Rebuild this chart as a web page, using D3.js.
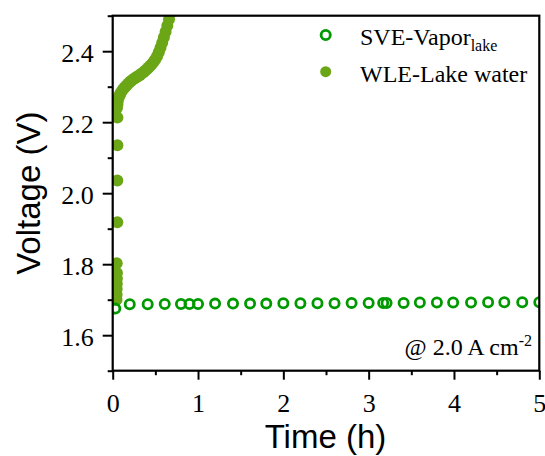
<!DOCTYPE html>
<html>
<head>
<meta charset="utf-8">
<script src="https://cdn.jsdelivr.net/npm/d3@7"></script>
<style>
  html, body { margin: 0; padding: 0; background: #fff; }
  svg { display: block; }
  .tick text { font-family: 'Liberation Serif', 'Times New Roman', serif !important; }
</style>
</head>
<body>
<svg id="chart" width="545" height="456"></svg>
<script>
// ---- data ----
const sveTime = [0.03, 0.20, 0.41, 0.61, 0.80, 0.90, 1.00, 1.20, 1.41, 1.61, 1.80, 2.00, 2.20, 2.40, 2.60, 2.80, 3.00, 3.17, 3.21, 3.41, 3.60, 3.80, 3.99, 4.20, 4.40, 4.59, 4.80, 5.00];
const sveVolt = [1.675, 1.687, 1.687, 1.688, 1.688, 1.688, 1.688, 1.689, 1.689, 1.689, 1.689, 1.690, 1.690, 1.690, 1.690, 1.691, 1.691, 1.691, 1.691, 1.691, 1.692, 1.692, 1.692, 1.692, 1.693, 1.693, 1.693, 1.693];

const wleTime = [0.045, 0.046, 0.047, 0.048, 0.049, 0.050, 0.047, 0.054, 0.054, 0.055, 0.055,
  0.05, 0.055, 0.06, 0.07, 0.08, 0.09, 0.10, 0.12, 0.14, 0.16, 0.18, 0.20, 0.22, 0.24, 0.26, 0.28, 0.30,
  0.32, 0.34, 0.36, 0.38, 0.40, 0.42, 0.44, 0.46, 0.48, 0.50, 0.52, 0.54, 0.56, 0.58, 0.60, 0.62, 0.64, 0.66, 0.68];
const wleVolt = [1.700, 1.715, 1.730, 1.745, 1.760, 1.775, 1.803, 1.918, 2.036, 2.135, 2.213,
  2.240, 2.250, 2.260, 2.270, 2.275, 2.280, 2.285, 2.292, 2.298, 2.303, 2.308, 2.313, 2.317, 2.321, 2.324, 2.327, 2.330,
  2.333, 2.337, 2.341, 2.345, 2.349, 2.354, 2.359, 2.364, 2.370, 2.377, 2.386, 2.397, 2.410, 2.424, 2.439, 2.455, 2.472, 2.490, 2.508];

const xMajorTicks = [0, 1, 2, 3, 4, 5];
const xMinorTicks = [0.5, 1.5, 2.5, 3.5, 4.5];
const yMajorTicks = [1.6, 1.8, 2.0, 2.2, 2.4];
const yMinorTicks = [1.5, 1.7, 1.9, 2.1, 2.3, 2.5];
const yTickLabels = ["1.6", "1.8", "2.0", "2.2", "2.4"];
const seriesNames = ["SVE-Vapor", "WLE-Lake water"];

// ---- layout ----
const svg = d3.select("#chart");
const L = 112.7, R = 539.3, T = 15.7, B = 370.7;
const x = d3.scaleLinear().domain([0, 5]).range([L, R]);
const y = d3.scaleLinear().domain([1.5, 2.5]).range([B, T]);

const SVE_COLOR = "#009a00";
const WLE_COLOR = "#6aa616";
const serif = "'Liberation Serif', 'Times New Roman', serif";
const sans = "'Liberation Sans', Arial, sans-serif";

svg.append("defs").append("clipPath").attr("id", "clip")
  .append("rect").attr("x", L).attr("y", T).attr("width", R - L).attr("height", B - T);

const plot = svg.append("g").attr("clip-path", "url(#clip)");

// WLE filled dots
plot.append("g").selectAll("circle")
  .data(wleTime.map((t, i) => [t, wleVolt[i]]))
  .join("circle")
  .attr("cx", d => x(d[0])).attr("cy", d => y(d[1]))
  .attr("r", 6).attr("fill", WLE_COLOR);

// SVE open circles
plot.append("g").selectAll("circle")
  .data(sveTime.map((t, i) => [t, sveVolt[i]]))
  .join("circle")
  .attr("cx", d => x(d[0])).attr("cy", d => y(d[1]))
  .attr("r", 4.6).attr("fill", "none").attr("stroke", SVE_COLOR).attr("stroke-width", 2.8);

// ---- axes ----
function styleAxis(g) {
  g.attr("font-family", serif).attr("font-size", 26);
  g.select(".domain").remove();
  g.selectAll(".tick line").attr("stroke", "#000").attr("stroke-width", 2);
  g.selectAll("text").style("font-family", serif).style("font-size", "26px").attr("fill", "#000");
}

const xAxis = svg.append("g").attr("transform", `translate(0,${B})`)
  .call(d3.axisBottom(x).tickValues(xMajorTicks).tickFormat(d3.format("d")).tickSize(9).tickPadding(13.5));
styleAxis(xAxis);
const xMinor = svg.append("g").attr("transform", `translate(0,${B})`)
  .call(d3.axisBottom(x).tickValues(xMinorTicks).tickFormat("").tickSize(4.5));
styleAxis(xMinor);

const yAxis = svg.append("g").attr("transform", `translate(${L},0)`)
  .call(d3.axisLeft(y).tickValues(yMajorTicks).tickFormat((d, i) => yTickLabels[i]).tickSize(10).tickPadding(9));
styleAxis(yAxis);
yAxis.selectAll("text").attr("dy", "0.4em");
const yMinor = svg.append("g").attr("transform", `translate(${L},0)`)
  .call(d3.axisLeft(y).tickValues(yMinorTicks).tickFormat("").tickSize(5));
styleAxis(yMinor);

// frame
svg.append("rect").attr("x", L).attr("y", T).attr("width", R - L).attr("height", B - T)
  .attr("fill", "none").attr("stroke", "#000").attr("stroke-width", 2.2);

// axis titles
svg.append("text").attr("x", (L + R) / 2 - 0.5).attr("y", 448.3)
  .attr("text-anchor", "middle").style("font-family", sans).style("font-size", "33px")
  .text("Time (h)");
svg.append("text").attr("transform", `translate(40,${(T + B) / 2}) rotate(-90)`)
  .attr("text-anchor", "middle").style("font-family", sans).style("font-size", "33px")
  .text("Voltage (V)");

// legend
const leg = svg.append("g");
leg.append("circle").attr("cx", 325.7).attr("cy", 35).attr("r", 4.6)
  .attr("fill", "none").attr("stroke", SVE_COLOR).attr("stroke-width", 2.8);
leg.append("circle").attr("cx", 325.7).attr("cy", 71.7).attr("r", 5.5).attr("fill", WLE_COLOR);
const t1 = leg.append("text").attr("x", 360).attr("y", 45)
  .style("font-family", serif).style("font-size", "24px");
t1.append("tspan").text(seriesNames[0]);
t1.append("tspan").style("font-size", "16px").attr("dy", 5.5).text("lake");
leg.append("text").attr("x", 360).attr("y", 81.7)
  .style("font-family", serif).style("font-size", "24px").text(seriesNames[1]);

// annotation
const ann = svg.append("text").attr("x", 532).attr("y", 355)
  .attr("text-anchor", "end").style("font-family", serif).style("font-size", "24px");
ann.append("tspan").text("@ 2.0 A cm");
ann.append("tspan").style("font-size", "16px").attr("dy", -9).text("-2");
</script>
</body>
</html>
